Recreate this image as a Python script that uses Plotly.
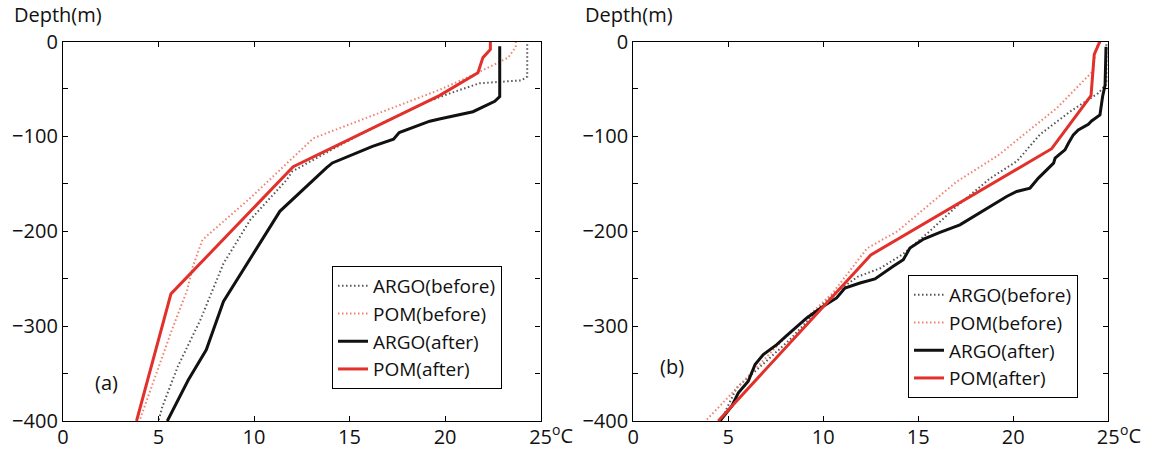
import plotly.graph_objects as go

# ---------------- data ----------------
# Panel (a)
a_argo_before_T = [24.3, 24.3, 24.0, 21.8, 20.2, 19.0, 16.9, 14.7, 12.0, 11.7, 9.8, 8.4, 7.2, 6.0, 5.2, 5.0]
a_argo_before_D = [-3, -37, -41, -44, -55, -64, -84, -107, -137, -146, -188, -234, -293, -343, -385, -400]

a_pom_before_T = [23.7, 23.7, 23.3, 21.5, 19.7, 13.1, 9.8, 7.3, 6.8, 6.5, 5.7, 4.5, 4.0]
a_pom_before_D = [0, -6, -17, -35, -51, -102, -165, -209, -237, -262, -304, -371, -400]

a_argo_after_T = [22.86, 22.86, 22.6, 21.46, 19.7, 19.2, 17.6, 17.3, 16.2, 14.1, 13.8, 12.9, 11.35, 8.4, 7.5, 6.55, 5.46]
a_argo_after_D = [-5, -58, -63, -74, -81.6, -84, -96, -103, -110.5, -128, -133, -150, -179, -274, -325, -357, -400]

a_pom_after_T = [22.37, 22.37, 21.98, 21.72, 19.7, 12.05, 5.65, 3.85]
a_pom_after_D = [0, -8.4, -17, -33, -57, -132, -266, -400]

# Panel (b)
b_argo_before_T = [24.9, 24.9, 24.47, 22.98, 21.4, 20.2, 18.8, 17.0, 15.6, 14.2, 13.0, 11.8, 10.35, 8.25, 6.5, 5.44, 4.6]
b_argo_before_D = [-3, -45, -54.5, -74, -98, -126, -144, -174, -200, -224, -239, -248, -269, -314, -346, -365, -400]

b_pom_before_T = [24.5, 24.3, 24.2, 22.3, 19.2, 17.0, 13.9, 12.3, 10.5, 7.9, 3.8]
b_pom_before_D = [0, -12, -31, -70, -120, -148, -200, -218, -265, -314, -400]

b_argo_after_T = [24.88, 24.83, 24.7, 24.56, 24.12, 23.95, 23.42, 23.16, 22.9, 22.72, 22.4, 22.2, 22.12, 21.67,
                  21.32, 20.88, 20.18, 19.65, 18.77, 17.9, 17.19, 16.14, 15.28, 14.56, 14.21, 13.68, 12.72, 11.93,
                  11.14, 10.7, 10.0, 9.13, 8.51, 8.07, 7.55, 6.84, 6.41, 6.05, 5.53, 5.18, 4.56]
b_argo_after_D = [-5.5, -45.8, -58, -77.4, -83.7, -87.2, -93.2, -98.4, -107.2, -114.2, -119.5, -123, -128.2, -137,
                  -144, -154.5, -158.1, -163.4, -173.9, -184.4, -193.2, -201.2, -208.2, -217.7, -230, -237, -250.3,
                  -254.5, -259.8, -270.3, -279.1, -291.4, -301.9, -310, -319.5, -330, -340.5, -358.1, -370.3, -384.4, -400]

b_pom_after_T = [24.56, 24.26, 24.09, 22.02, 12.5, 4.47]
b_pom_after_D = [0, -13.5, -57, -113, -225, -400]

series_names = ["ARGO(before)", "POM(before)", "ARGO(after)", "POM(after)"]

x_ticks = [0, 5, 10, 15, 20, 25]
y_ticks = [0, -100, -200, -300, -400]
y_tick_labels = ["0", "\u2212100", "\u2212200", "\u2212300", "\u2212400"]
y_minor_ticks = [-50, -150, -250, -350]

# ---------------- style ----------------
FONT = "Open Sans"
RED = "#e2312a"
RED_DOT = "#f08070"
BLACK = "#111111"
GRAY_DOT = "#555555"

styles = [
    dict(color=GRAY_DOT, width=2, dash="1.5px,2.5px"),
    dict(color=RED_DOT, width=2, dash="1.5px,2.5px"),
    dict(color=BLACK, width=3),
    dict(color=RED, width=3),
]

fig = go.Figure()

panel_a = [(a_argo_before_T, a_argo_before_D), (a_pom_before_T, a_pom_before_D),
           (a_argo_after_T, a_argo_after_D), (a_pom_after_T, a_pom_after_D)]
panel_b = [(b_argo_before_T, b_argo_before_D), (b_pom_before_T, b_pom_before_D),
           (b_argo_after_T, b_argo_after_D), (b_pom_after_T, b_pom_after_D)]

for (T, D), name, st in zip(panel_a, series_names, styles):
    fig.add_trace(go.Scatter(x=T, y=D, mode="lines", name=name, line=st,
                             xaxis="x", yaxis="y", legend="legend"))
for (T, D), name, st in zip(panel_b, series_names, styles):
    fig.add_trace(go.Scatter(x=T, y=D, mode="lines", name=name, line=st,
                             xaxis="x2", yaxis="y2", legend="legend2"))

W, H = 1152, 450
ytop, ybot = 41.5, 421
dom_y = [1 - ybot / H, 1 - ytop / H]

axis_common = dict(showline=True, linecolor="black", linewidth=1.3, mirror="ticks",
                    ticks="inside", ticklen=5, tickwidth=1, tickcolor="black",
                    showgrid=False, zeroline=False, automargin=False,
                    tickfont=dict(family=FONT, size=20, color="#111"))
y_minor = dict(tickvals=y_minor_ticks, ticks="inside", ticklen=5, tickwidth=1,
               tickcolor="black", showgrid=False)

legend_common = dict(xanchor="left", yanchor="top", bordercolor="black", borderwidth=1,
                     bgcolor="white", font=dict(family=FONT, size=19, color="#111"),
                     tracegroupgap=0, itemwidth=30)

fig.update_layout(
    width=W, height=H,
    margin=dict(l=0, r=0, t=0, b=0, pad=0, autoexpand=False),
    plot_bgcolor="white", paper_bgcolor="white",
    font=dict(family=FONT, size=20, color="#111"),
    xaxis=dict(domain=[63 / W, 540.6 / W], range=[0, 25], anchor="y",
               tickvals=x_ticks, ticktext=[str(v) for v in x_ticks],
               ticklabelstandoff=-2, **axis_common),
    yaxis=dict(domain=dom_y, range=[-400, 0], anchor="x",
               tickvals=y_ticks, ticktext=y_tick_labels, minor=y_minor, **axis_common),
    xaxis2=dict(domain=[633.3 / W, 1108.3 / W], range=[0, 25], anchor="y2",
                tickvals=x_ticks, ticktext=[str(v) for v in x_ticks],
                ticklabelstandoff=-2, **axis_common),
    yaxis2=dict(domain=dom_y, range=[-400, 0], anchor="x2",
                tickvals=y_ticks, ticktext=y_tick_labels, minor=y_minor, **axis_common),
    legend=dict(x=332 / W, y=1 - 266 / H, **legend_common),
    legend2=dict(x=908 / W, y=1 - 275 / H, **legend_common),
    showlegend=True,
)

annotations = [
    dict(text="Depth(m)", x=12 / W, y=1 - 15 / H, xanchor="left", yanchor="middle"),
    dict(text="Depth(m)", x=583 / W, y=1 - 15 / H, xanchor="left", yanchor="middle"),
    dict(text="<sup>o</sup>C", x=550 / W, y=1 - 434 / H, xanchor="left", yanchor="middle"),
    dict(text="<sup>o</sup>C", x=1118 / W, y=1 - 434 / H, xanchor="left", yanchor="middle"),
    dict(text="(a)", x=106 / W, y=1 - 382 / H, xanchor="center", yanchor="middle"),
    dict(text="(b)", x=672 / W, y=1 - 366 / H, xanchor="center", yanchor="middle"),
]
for a in annotations:
    fig.add_annotation(xref="paper", yref="paper", showarrow=False,
                       font=dict(family=FONT, size=20, color="#111"), **a)

fig.write_html("out.html",
               config={"displayModeBar": False},
               post_script="document.body.style.margin='0';document.body.style.overflow='hidden';")
